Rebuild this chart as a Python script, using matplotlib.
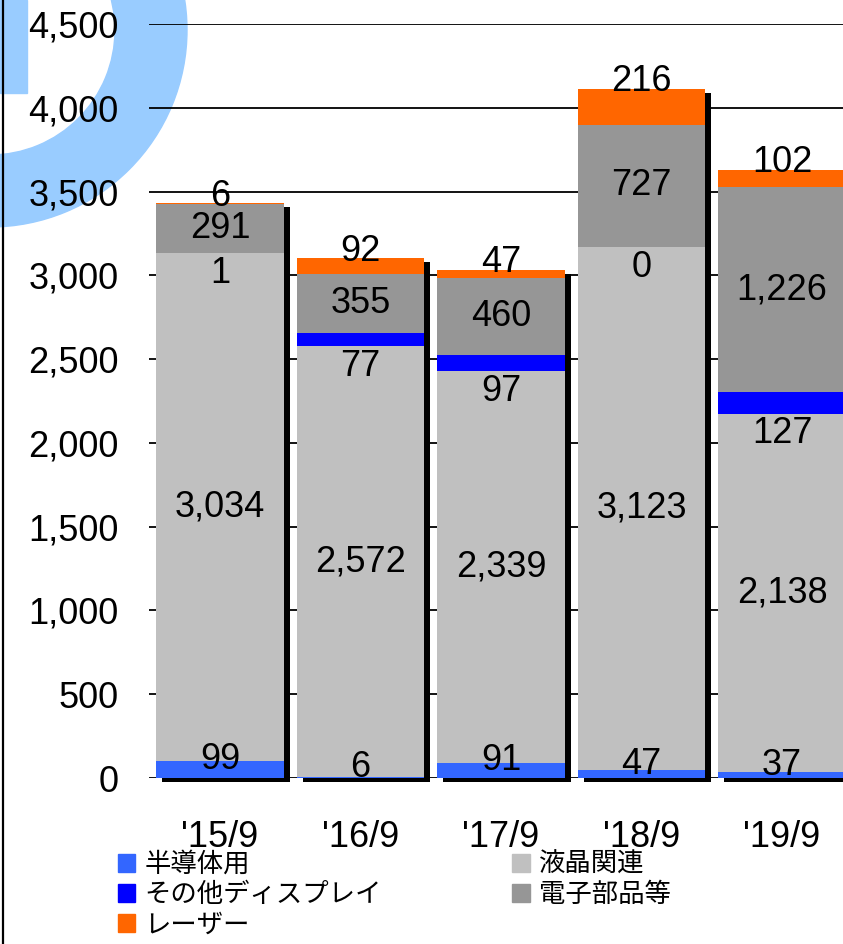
import numpy as np
import matplotlib
matplotlib.use("Agg")
import matplotlib.pyplot as plt
import matplotlib.patches as mpatches
import matplotlib.transforms as mtransforms
from matplotlib.font_manager import FontProperties

# data (unit: million yen, stacked)
periods = ["'15/9", "'16/9", "'17/9", "'18/9", "'19/9"]
semiconductor = [99, 6, 91, 47, 37]          # 半導体用
lcd = [3034, 2572, 2339, 3123, 2138]         # 液晶関連
other_display = [1, 77, 97, 0, 127]          # その他ディスプレイ
electronic = [291, 355, 460, 727, 1226]      # 電子部品等
laser = [6, 92, 47, 216, 102]                # レーザー
yticks = [0, 500, 1000, 1500, 2000, 2500, 3000, 3500, 4000, 4500]

series = [
    ("半導体用", semiconductor, "#3366FF"),
    ("液晶関連", lcd, "#C0C0C0"),
    ("その他ディスプレイ", other_display, "#0000FF"),
    ("電子部品等", electronic, "#969696"),
    ("レーザー", laser, "#FF6600"),
]

W, H = 843, 944
num_font = ["Liberation Sans", "DejaVu Sans"]
jp_font = FontProperties(family=["Noto Sans CJK JP", "DejaVu Sans"], size=19)

fig = plt.figure(figsize=(W / 100, H / 100), dpi=100)
fig.patch.set_facecolor("white")

# pixel coords (origin top-left) -> figure
pix = mtransforms.Affine2D().scale(1 / W, -1 / H).translate(0, 1) + fig.transFigure

# light blue logo fragment in the corner
ring = mpatches.Wedge((-10, 30), 197, 0, 360, width=72, color="#99CCFF",
                      transform=pix, zorder=-5)
fig.add_artist(ring)
fig.add_artist(mpatches.Rectangle((0, 0), 27, 93, color="#99CCFF",
                                  transform=pix, zorder=-5))
fig.add_artist(plt.Line2D([2.5, 2.5], [0, H], color="black", lw=1.6,
                          transform=pix))

ax = fig.add_axes([149 / W, 1 - 778 / H, (W - 149) / W, (778 - 24) / H])
ax.patch.set_alpha(0)

x = np.arange(len(periods))
width = 0.91
totals = np.sum([s[1] for s in series], axis=0)

# drop shadow behind each stack
shadow_tr = ax.transData + mtransforms.ScaledTranslation(6 / 100, -4 / 100, fig.dpi_scale_trans)
ax.bar(x, totals, width, color="black", transform=shadow_tr, zorder=2, clip_on=False)

bottom = np.zeros(len(periods))
handles = []
for name, vals, col in series:
    vals = np.array(vals, dtype=float)
    ax.bar(x, vals, width, bottom=bottom, color=col, zorder=3, label=name)
    handles.append(mpatches.Patch(color=col, label=name))
    for xi, b, v in zip(x, bottom, vals):
        txt = f"{int(v):,}"
        kw = dict(ha="center", fontsize=26, family=num_font, zorder=5,
                  textcoords="offset points")
        if name == "半導体用":
            ax.annotate(txt, (xi, b + v / 2), xytext=(0, 7), va="center", **kw)
        elif name == "その他ディスプレイ":
            ax.annotate(txt, (xi, b), xytext=(0, -2), va="top", **kw)
        elif name == "レーザー":
            ax.annotate(txt, (xi, b + v), xytext=(0, 5), va="center", **kw)
        else:
            ax.annotate(txt, (xi, b + v / 2), xytext=(0, 0), va="center", **kw)
    bottom += vals

ax.set_xlim(-0.505, 4.434)
ax.set_ylim(0, 4500)
ax.set_yticks(yticks)
ax.set_yticklabels([f"{v:,}" for v in yticks], family=num_font, fontsize=26)
ax.set_xticks(x)
ax.set_xticklabels(periods, family=num_font, fontsize=26)
ax.tick_params(axis="y", length=0, pad=22)
ax.tick_params(axis="x", length=0, pad=30)
ax.yaxis.grid(True, color="black", lw=1.3)
ax.set_axisbelow(True)
for sp in ax.spines.values():
    sp.set_visible(False)

order = [0, 2, 4, 1, 3]
fig.legend(handles=[handles[i] for i in order], ncol=2, loc="upper left",
           bbox_to_anchor=(118 / W, 1 - 851 / H), frameon=False, prop=jp_font,
           handlelength=0.65, handleheight=0.65, handletextpad=0.35,
           borderpad=0, borderaxespad=0, labelspacing=0.12, columnspacing=4.95)

fig.savefig("out.png", dpi=100)
